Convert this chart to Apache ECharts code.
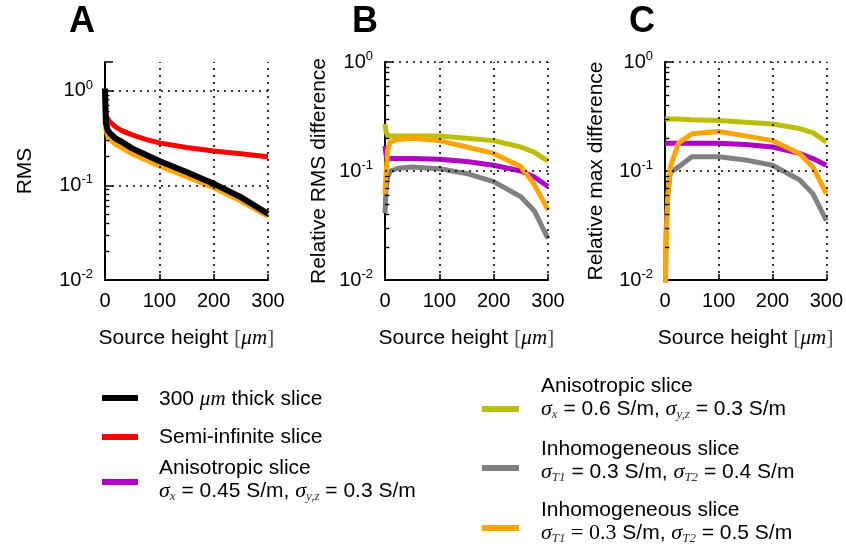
<!DOCTYPE html>
<html><head><meta charset="utf-8">
<script src="https://cdn.jsdelivr.net/npm/echarts@6/dist/echarts.min.js"></script>
<style>html,body{margin:0;padding:0;background:#fff}#c{width:846px;height:546px}</style>
</head><body><div id="c"></div>
<script>
// ---------- data ----------
const panelTitles = ['A', 'B', 'C'];
const yAxisNames = ['RMS', 'Relative RMS difference', 'Relative max difference'];
const xAxisName = '{n|Source height }{br|[}{i|μm}{br|]}';
const xTickValues = [0, 100, 200, 300];
const yMins = [0.01, 0.01, 0.01];
const yMaxes = [2, 1, 1];
const gridXValues = [100, 200, 300];
const gridYValues = [1, 0.1];
const minorTickValues = [0.02,0.03,0.04,0.05,0.06,0.07,0.08,0.09,0.2,0.3,0.4,0.5,0.6,0.7,0.8,0.9,2];

// Panel A (RMS)
const xA = [0, 1, 2, 5, 10, 20, 30, 50, 75, 100, 150, 200, 250, 300];
const aRed    = [1.0, 0.65, 0.55, 0.50, 0.46, 0.41, 0.38, 0.34, 0.305, 0.28, 0.25, 0.23, 0.215, 0.20];
const aOrange = [0.50, 0.42, 0.38, 0.33, 0.30, 0.27, 0.25, 0.215, 0.185, 0.16, 0.123, 0.094, 0.068, 0.047];
const aBlack  = [1.05, 0.60, 0.45, 0.38, 0.35, 0.31, 0.29, 0.245, 0.21, 0.18, 0.138, 0.104, 0.075, 0.050];

// Panels B and C share the x samples
const xBC = [0, 2, 5, 10, 25, 50, 100, 150, 200, 250, 275, 300];
const bPurple = [0.17, 0.14, 0.13, 0.13, 0.13, 0.13, 0.128, 0.122, 0.113, 0.10, 0.088, 0.072];
const bOlive  = [0.27, 0.23, 0.21, 0.21, 0.21, 0.21, 0.21, 0.20, 0.19, 0.166, 0.148, 0.123];
const bGray   = [0.041, 0.07, 0.088, 0.10, 0.106, 0.109, 0.105, 0.095, 0.08, 0.058, 0.043, 0.024];
const bOrange = [0.062, 0.095, 0.155, 0.185, 0.195, 0.20, 0.19, 0.166, 0.145, 0.11, 0.075, 0.044];

const cPurple = [0.18, 0.18, 0.18, 0.18, 0.18, 0.18, 0.18, 0.175, 0.166, 0.145, 0.13, 0.113];
const cOlive  = [0.30, 0.30, 0.30, 0.30, 0.30, 0.295, 0.29, 0.28, 0.27, 0.245, 0.225, 0.185];
const cGray   = [0.004, 0.027, 0.062, 0.097, 0.109, 0.135, 0.135, 0.126, 0.113, 0.083, 0.062, 0.035];
const cOrange = [0.004, 0.019, 0.054, 0.109, 0.18, 0.22, 0.23, 0.21, 0.19, 0.145, 0.109, 0.062];

// legend
const legendKeys = ['black', 'red', 'purple', 'olive', 'gray', 'orange'];
const legendLabels = [
  ['300 {i|μm} thick slice'],
  ['Semi-infinite slice'],
  ['Anisotropic slice', '{s|σ}{sub|x} = 0.45 S/m, {s|σ}{sub|y,z} = 0.3 S/m'],
  ['Anisotropic slice', '{s|σ}{sub|x} = 0.6 S/m, {s|σ}{sub|y,z} = 0.3 S/m'],
  ['Inhomogeneous slice', '{s|σ}{sub|T1} = 0.3 S/m, {s|σ}{sub|T2} = 0.4 S/m'],
  ['Inhomogeneous slice', '{s|σ}{sub|T1}{r| = 0.3} S/m, {s|σ}{sub|T2} = 0.5 S/m']
];

// ---------- styling ----------
const colors = {black:'#000000', red:'#ff0000', purple:'#b000c8', olive:'#bcbf00', gray:'#808080', orange:'#ffa500'};
const SANS = "'Liberation Sans', Arial, sans-serif";
const SERIF = "'Liberation Serif', 'DejaVu Serif', serif";
const gridLefts = [105, 385, 665];
const gridTop = 62, gridW = 163, gridH = 218;
const nameGaps = [69, 55, 58];
const titleLefts = [69, 352, 629];
const minorTickLen = 8; // in x data units (~4px)
// legend layout: [lineX1, lineX2, lineY, textX, firstTextY]
const legendPos = [
  [102, 138, 398, 159, 399],
  [102, 138, 437, 159, 437],
  [102, 138, 482, 159, 468],
  [482, 519, 409, 541, 386],
  [482, 519, 468, 541, 449],
  [482, 519, 528, 541, 510]
];

const richText = {
  i: {fontFamily: SERIF, fontStyle: 'italic', fontSize: 21, fill: '#000', lineHeight: 24},
  r: {fontFamily: SERIF, fontSize: 22, fill: '#000', lineHeight: 24},
  s: {fontFamily: SERIF, fontStyle: 'italic', fontSize: 22, fill: '#000', lineHeight: 24},
  sub: {fontFamily: SERIF, fontStyle: 'italic', fontSize: 13, fill: '#333', lineHeight: 10, verticalAlign: 'bottom'}
};

function isPow10(v) { const l = Math.log10(v); return Math.abs(l - Math.round(l)) < 1e-6; }

const grids = [], xAxes = [], yAxes = [], series = [], titles = [];
for (let p = 0; p < 3; p++) {
  grids.push({left: gridLefts[p], top: gridTop, width: gridW, height: gridH, containLabel: false});
  titles.push({text: panelTitles[p], left: titleLefts[p], top: 4, padding: 0,
    textStyle: {fontFamily: SANS, fontWeight: 'bold', fontSize: 36, color: '#000'}});
  xAxes.push({
    type: 'value', gridIndex: p, min: 0, max: 300, interval: 100,
    name: xAxisName, nameLocation: 'middle', nameGap: 47,
    nameTextStyle: {rich: {
      n: {fontFamily: SANS, fontSize: 21, color: '#000'},
      br: {fontFamily: SERIF, fontSize: 22, color: '#555'},
      i: {fontFamily: SERIF, fontStyle: 'italic', fontSize: 21, color: '#000'}
    }},
    axisLine: {show: true, onZero: false, lineStyle: {color: '#000', width: 2}},
    axisTick: {show: true, inside: true, length: 6, lineStyle: {color: '#000', width: 1.5}},
    axisLabel: {fontFamily: SANS, fontSize: 20, color: '#000', margin: 11},
    splitLine: {show: false}
  });
  const labelFmt = v => {
    if (!isPow10(v)) return '';
    return '{b|10}{e|' + Math.round(Math.log10(v)) + '}';
  };
  yAxes.push({
    type: 'log', logBase: 10, gridIndex: p, position: 'left', min: yMins[p], max: yMaxes[p],
    name: yAxisNames[p], nameLocation: 'middle', nameGap: nameGaps[p],
    nameTextStyle: {fontFamily: SANS, fontSize: 21, color: '#000'},
    axisLine: {show: true, onZero: false, lineStyle: {color: '#000', width: 2}},
    axisTick: {show: true, inside: true, length: 8, lineStyle: {color: '#000', width: 1.5}},
    axisLabel: {formatter: labelFmt, margin: 12, rich: {
      b: {fontFamily: SANS, fontSize: 20, color: '#000', lineHeight: 24},
      e: {fontFamily: SANS, fontSize: 13, color: '#000', lineHeight: 12, verticalAlign: 'top'}
    }},
    splitLine: {show: false}
  });
}

function line(p, xs, ys, key, width, withGrid) {
  const s = {
    type: 'line', name: key, xAxisIndex: p, yAxisIndex: p,
    data: xs.map((x, i) => [x, ys[i]]), symbol: 'none', showSymbol: false,
    lineStyle: {color: colors[key], width: width, join: 'round'}, itemStyle: {color: colors[key]},
    animation: false, silent: true, clip: true
  };
  if (withGrid) {
    const gridData = gridYValues.map(v => ({yAxis: v})).concat(gridXValues.map(v => ({xAxis: v})));
    const minorData = minorTickValues.filter(v => v < yMaxes[p]).map(v => [
      {coord: [0, v], lineStyle: {type: 'solid', width: 1.4, color: '#000'}},
      {coord: [minorTickLen, v]}
    ]);
    s.markLine = {
      silent: true, symbol: 'none', animation: false, label: {show: false},
      lineStyle: {color: '#000', width: 1.6, type: [2, 5]},
      data: gridData.concat(minorData)
    };
  }
  return s;
}

series.push(line(0, xA, aRed, 'red', 5, true));
series.push(line(0, xA, aOrange, 'orange', 5, false));
series.push(line(0, xA, aBlack, 'black', 6, false));

series.push(line(1, xBC, bPurple, 'purple', 5, true));
series.push(line(1, xBC, bOlive, 'olive', 5, false));
series.push(line(1, xBC, bGray, 'gray', 5, false));
series.push(line(1, xBC, bOrange, 'orange', 5, false));

series.push(line(2, xBC, cPurple, 'purple', 5, true));
series.push(line(2, xBC, cOlive, 'olive', 5, false));
series.push(line(2, xBC, cGray, 'gray', 5, false));
series.push(line(2, xBC, cOrange, 'orange', 5, false));

// legend drawn as graphic elements
const graphic = [];
legendKeys.forEach((k, i) => {
  const [x1, x2, ly, tx, ty] = legendPos[i];
  graphic.push({type: 'line', shape: {x1: x1, y1: ly, x2: x2, y2: ly},
    style: {stroke: colors[k], lineWidth: 6}, silent: true});
  legendLabels[i].forEach((t, j) => {
    graphic.push({type: 'text', x: tx, y: ty + j * 23, silent: true,
      style: {text: t, fontFamily: SANS, fontSize: 21, fill: '#000', lineHeight: 24,
        verticalAlign: 'middle', align: 'left', rich: richText}});
  });
});

const chart = echarts.init(document.getElementById('c'), null, {renderer: 'canvas'});
chart.setOption({
  animation: false, backgroundColor: '#fff',
  title: titles, grid: grids, xAxis: xAxes, yAxis: yAxes, series: series, graphic: graphic
});
</script></body></html>
